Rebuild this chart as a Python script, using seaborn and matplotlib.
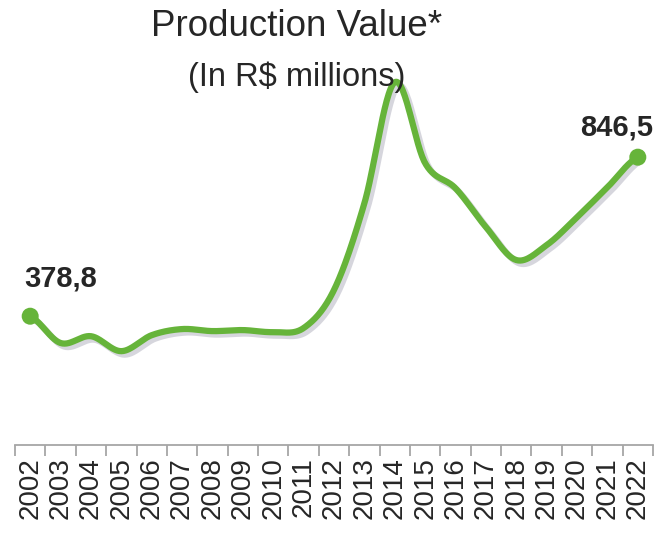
import numpy as np
import pandas as pd
import matplotlib
matplotlib.use("Agg")
import matplotlib.pyplot as plt
import matplotlib.patheffects as pe
import seaborn as sns

# data (R$ millions)
years = [2002, 2003, 2004, 2005, 2006, 2007, 2008, 2009, 2010, 2011, 2012,
         2013, 2014, 2015, 2016, 2017, 2018, 2019, 2020, 2021, 2022]
values = [378.8, 300, 320, 276, 323, 341, 335, 338, 332, 344, 456,
          711, 1067, 829, 755, 641, 544, 588, 670, 758, 846.5]
end_labels = ["378,8", "846,5"]

green = "#66b43a"
text_col = "#262626"

sns.set_style("white")
plt.rcParams["font.family"] = ["Liberation Sans", "DejaVu Sans"]

# smoothed line (catmull-rom, like the spreadsheet "smoothed line" option)
idx = np.arange(len(values))
v = np.array(values, dtype=float)
p = np.concatenate([[v[0]], v, [v[-1]]])
xs, ys = [], []
for i in range(len(v) - 1):
    p0, p1, p2, p3 = p[i], p[i + 1], p[i + 2], p[i + 3]
    t = np.linspace(0, 1, 30, endpoint=(i == len(v) - 2))
    y = 0.5 * (2 * p1 + (-p0 + p2) * t + (2 * p0 - 5 * p1 + 4 * p2 - p3) * t**2
               + (-p0 + 3 * p1 - 3 * p2 + p3) * t**3)
    xs.extend(i + t)
    ys.extend(y)
smooth = pd.DataFrame({"x": xs, "y": ys})

fig = plt.figure(figsize=(6.63, 5.33), dpi=100)
ax = fig.add_axes([15 / 663, 88 / 533, 638 / 663, 408 / 533])

sns.lineplot(data=smooth, x="x", y="y", sort=False, color=green, linewidth=4.5,
             ax=ax, solid_capstyle="round",
             path_effects=[pe.SimpleLineShadow(offset=(2.5, -2.5), shadow_color="#9a9aaa", alpha=0.4),
                           pe.Normal()])

ends = pd.DataFrame({"x": [idx[0], idx[-1]], "y": [values[0], values[-1]]})
sns.scatterplot(data=ends, x="x", y="y", color=green, s=150, edgecolor="none", ax=ax, zorder=5)

ax.text(idx[0] + 1.0, values[0] + 110, end_labels[0], ha="center", va="center",
        fontsize=21, fontweight="bold", color=text_col)
ax.text(idx[-1] - 0.7, values[-1] + 88, end_labels[1], ha="center", va="center",
        fontsize=21, fontweight="bold", color=text_col)

ax.set_xlim(-0.5, len(years) - 0.5)
ax.set_ylim(0, 1200)
ax.set_xticks(idx)
ax.set_xticklabels([str(y) for y in years], rotation=90, fontsize=20, color=text_col)
ax.set_xticks(np.arange(-0.5, len(years)), minor=True)
ax.tick_params(axis="x", which="major", length=0, pad=9)
ax.tick_params(axis="x", which="minor", length=8, width=1.3, color="#a6a6a6", bottom=True)
ax.set_yticks([])
ax.set_xlabel("")
ax.set_ylabel("")
for s in ["top", "left", "right"]:
    ax.spines[s].set_visible(False)
ax.spines["bottom"].set_color("#a6a6a6")
ax.spines["bottom"].set_linewidth(1.3)

fig.text(297 / 663, 1 - 27 / 533, "Production Value*", ha="center", va="center",
         fontsize=26.5, color=text_col)
fig.text(297 / 663, 1 - 77 / 533, "(In R$ millions)", ha="center", va="center",
         fontsize=23.5, color=text_col)

fig.savefig("out.png", dpi=100)
